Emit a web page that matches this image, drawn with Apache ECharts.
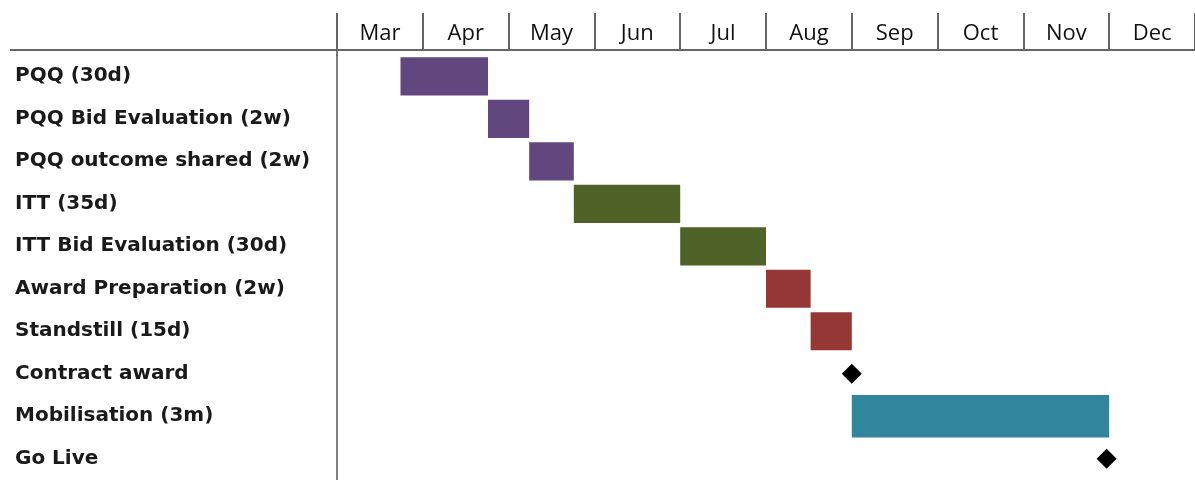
<!DOCTYPE html>
<html>
<head>
<meta charset="utf-8">
<script src="https://cdn.jsdelivr.net/npm/echarts@6/dist/echarts.min.js"></script>
<style>
  html, body { margin: 0; padding: 0; background: #fff; }
  #main { width: 1195px; height: 480px; }
</style>
</head>
<body>
<div id="main"></div>
<script>
  // month header (Mar = 0 on the hidden value axis)
  const months = ['Mar', 'Apr', 'May', 'Jun', 'Jul', 'Aug', 'Sep', 'Oct', 'Nov', 'Dec'];

  const tasks = [
    'PQQ (30d)',
    'PQQ Bid Evaluation (2w)',
    'PQQ outcome shared (2w)',
    'ITT (35d)',
    'ITT Bid Evaluation (30d)',
    'Award Preparation (2w)',
    'Standstill (15d)',
    'Contract award',
    'Mobilisation (3m)',
    'Go Live',
  ];

  // start / end in months from start of March; null = no bar
  const taskStart = [0.74, 1.76, 2.24, 2.76, 4.0, 5.0, 5.52, null, 6.0, null];
  const taskEnd = [1.76, 2.24, 2.76, 4.0, 5.0, 5.52, 6.0, null, 9.0, null];
  const taskPhase = ['pqq', 'pqq', 'pqq', 'itt', 'itt', 'award', 'award', null, 'mob', null];

  // milestones (diamonds)
  const milestoneAt = [null, null, null, null, null, null, null, 6.0, null, 8.97];

  const phaseStyle = {
    pqq: { color: '#62477f', ratio: 0.9 },
    itt: { color: '#4f6228', ratio: 0.9 },
    award: { color: '#953735', ratio: 0.89 },
    mob: { color: '#31859c', ratio: 1.0 },
  };

  function makeRender(color, ratio) {
    return function (params, api) {
      let a = api.coord([api.value(0), api.value(2)]);
      let b = api.coord([api.value(1), api.value(2)]);
      let h = api.size([0, 1])[1] * ratio;
      return {
        type: 'rect',
        shape: { x: a[0], y: a[1] - h / 2, width: b[0] - a[0], height: h },
        style: { fill: color },
      };
    };
  }

  let series = Object.keys(phaseStyle).map(function (phase) {
    let data = [];
    tasks.forEach(function (t, i) {
      if (taskPhase[i] === phase) data.push([taskStart[i], taskEnd[i], i]);
    });
    return {
      type: 'custom',
      name: phase,
      xAxisIndex: 1,
      yAxisIndex: 0,
      renderItem: makeRender(phaseStyle[phase].color, phaseStyle[phase].ratio),
      encode: { x: [0, 1], y: 2 },
      data: data,
      silent: true,
    };
  });

  let milestones = [];
  milestoneAt.forEach(function (v, i) {
    if (v !== null) milestones.push([v, i]);
  });
  series.push({
    type: 'scatter',
    xAxisIndex: 1,
    yAxisIndex: 0,
    symbol: 'diamond',
    symbolSize: 20,
    itemStyle: { color: '#000', opacity: 1 },
    data: milestones,
    silent: true,
    z: 5,
  });

  let chart = echarts.init(document.getElementById('main'));
  chart.setOption({
    animation: false,
    backgroundColor: '#fff',
    grid: { left: 337, right: 0, top: 55, height: 432 },
    xAxis: [
      {
        type: 'category',
        position: 'top',
        offset: 5,
        data: months,
        boundaryGap: true,
        axisLine: { show: true, lineStyle: { color: '#666', width: 2 } },
        axisTick: { show: true, length: 37, lineStyle: { color: '#666', width: 2 } },
        axisLabel: {
          fontFamily: 'Open Sans',
          fontSize: 22,
          color: '#111',
          margin: 5,
        },
        splitLine: { show: false },
      },
      {
        type: 'value',
        min: 0,
        max: 10,
        show: false,
        splitLine: { show: false },
      },
    ],
    yAxis: {
      type: 'category',
      inverse: true,
      data: tasks,
      axisLine: { show: true, lineStyle: { color: '#555', width: 1.5 } },
      axisTick: { show: false },
      axisLabel: {
        align: 'left',
        margin: 322,
        fontFamily: 'DejaVu Sans',
        fontWeight: 'bold',
        fontSize: 20,
        color: '#1a1a1a',
      },
      splitLine: { show: false },
    },
    graphic: [
      {
        type: 'line',
        shape: { x1: 10, y1: 50, x2: 338, y2: 50 },
        style: { stroke: '#666', lineWidth: 2 },
      },
      {
        type: 'line',
        shape: { x1: 337, y1: 49, x2: 337, y2: 56 },
        style: { stroke: '#555', lineWidth: 1.5 },
      },
    ],
    series: series,
  });
</script>
</body>
</html>
